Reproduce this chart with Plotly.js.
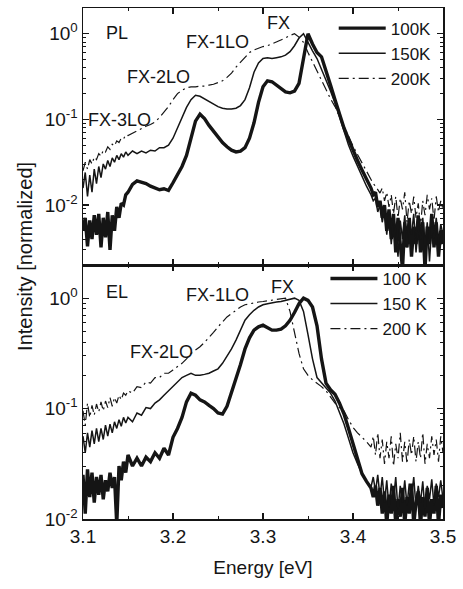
<!DOCTYPE html>
<html><head><meta charset="utf-8">
<script src="https://cdn.plot.ly/plotly-3.0.1.min.js"></script>
<style>html,body{margin:0;padding:0;background:#fff}#chart{width:463px;height:589px}</style>
</head><body><div id="chart"></div>
<script>
// Photon energy grid (eV): finer sampling in the noisy tails
const energy = [3.1000,3.1025,3.1050,3.1075,3.1100,3.1125,3.1150,3.1175,3.1200,3.1225,
  3.1250,3.1275,3.1300,3.1325,3.1350,3.1375,3.1400,3.1425,3.1450,3.1475,3.1500,
  3.155,3.160,3.165,3.170,3.175,3.180,3.185,3.190,3.195,
  3.200,3.205,3.210,3.215,3.220,3.225,3.230,3.235,3.240,3.245,
  3.250,3.255,3.260,3.265,3.270,3.275,3.280,3.285,3.290,3.295,
  3.300,3.305,3.310,3.315,3.320,3.325,3.330,3.335,3.340,3.345,
  3.350,3.355,3.360,3.365,3.370,3.375,3.380,3.385,3.390,3.395,
  3.400,3.405,3.410,3.415,
  3.4200,3.4225,3.4250,3.4275,3.4300,3.4325,3.4350,3.4375,3.4400,3.4425,
  3.4450,3.4475,3.4500,3.4525,3.4550,3.4575,3.4600,3.4625,3.4650,3.4675,
  3.4700,3.4725,3.4750,3.4775,3.4800,3.4825,3.4850,3.4875,3.4900,3.4925,
  3.4950,3.4975,3.5000];

// PL spectra (normalized intensity)
const pl100 = [0.0050,0.0071,0.0033,0.0066,0.0040,0.0076,0.0045,0.0079,0.0032,0.0071,
  0.0042,0.0083,0.0030,0.0076,0.0050,0.0095,0.0071,0.0105,0.0100,0.0132,0.0141,
  0.0174,0.0191,0.0186,0.0178,0.0166,0.0158,0.0151,0.0155,0.0148,
  0.0182,0.0224,0.0282,0.0380,0.0603,0.0955,0.115,0.102,0.0851,0.0724,
  0.0617,0.0537,0.0479,0.0437,0.0417,0.0427,0.0468,0.0603,0.0912,0.158,
  0.240,0.282,0.275,0.251,0.229,0.209,0.204,0.214,0.263,0.501,
  1.000,0.759,0.603,0.537,0.380,0.251,0.170,0.115,0.0794,0.0589,
  0.0437,0.0331,0.0257,0.0200,
  0.0158,0.0132,0.0141,0.0095,0.0112,0.0071,0.0100,0.0050,0.0089,0.0040,
  0.0079,0.0028,0.0071,0.0035,0.0018,0.0063,0.0032,0.0071,0.0025,0.0056,
  0.0035,0.0076,0.0028,0.0063,0.0018,0.0056,0.0035,0.0079,0.0032,0.0063,
  0.0025,0.0050,0.0035];
const pl150 = [0.0158,0.0240,0.0126,0.0224,0.0141,0.0263,0.0178,0.0282,0.0209,0.0302,
  0.0263,0.0331,0.0282,0.0355,0.0316,0.0380,0.0339,0.0398,0.0363,0.0417,0.0380,
  0.0427,0.0398,0.0427,0.0407,0.0437,0.0427,0.0468,0.0468,0.0501,
  0.0603,0.0794,0.105,0.138,0.170,0.191,0.186,0.174,0.162,0.151,
  0.141,0.135,0.132,0.132,0.135,0.145,0.170,0.234,0.355,0.457,
  0.513,0.525,0.513,0.525,0.537,0.562,0.617,0.724,0.891,1.000,
  0.776,0.631,0.513,0.389,0.288,0.214,0.155,0.105,0.0692,0.0501,
  0.0372,0.0282,0.0224,0.0166,
  0.0132,0.0112,0.0120,0.0083,0.0100,0.0063,0.0089,0.0045,0.0079,0.0035,
  0.0071,0.0050,0.0025,0.0066,0.0040,0.0076,0.0032,0.0063,0.0045,0.0079,
  0.0028,0.0056,0.0040,0.0071,0.0032,0.0063,0.0022,0.0056,0.0040,0.0071,
  0.0035,0.0060,0.0045];
const pl200 = [0.0251,0.0316,0.0263,0.0339,0.0302,0.0363,0.0339,0.0398,0.0372,0.0437,
  0.0417,0.0479,0.0447,0.0513,0.0490,0.0562,0.0537,0.0603,0.0589,0.0661,0.0646,
  0.0692,0.0741,0.0794,0.0832,0.0871,0.0933,0.105,0.120,0.141,
  0.170,0.200,0.219,0.234,0.240,0.240,0.245,0.245,0.251,0.257,
  0.269,0.282,0.309,0.347,0.407,0.468,0.537,0.603,0.646,0.676,
  0.708,0.724,0.759,0.794,0.832,0.891,0.955,1.000,0.912,0.794,
  0.603,0.468,0.363,0.282,0.219,0.174,0.141,0.107,0.0832,0.0631,
  0.0490,0.0389,0.0309,0.0251,
  0.0200,0.0178,0.0166,0.0151,0.0138,0.0158,0.0112,0.0141,0.0095,0.0132,
  0.0079,0.0126,0.0071,0.0120,0.0089,0.0141,0.0063,0.0112,0.0079,0.0126,
  0.0071,0.0105,0.0056,0.0112,0.0076,0.0132,0.0089,0.0120,0.0066,0.0126,
  0.0083,0.0112,0.0089];

// EL spectra (normalized intensity)
const el100 = [0.0251,0.0112,0.0282,0.0158,0.0263,0.0141,0.0240,0.0166,0.0251,0.0151,
  0.0224,0.0178,0.0263,0.0191,0.0240,0.0089,0.0302,0.0224,0.0331,0.0263,0.0380,
  0.0302,0.0355,0.0302,0.0363,0.0331,0.0398,0.0355,0.0437,0.0380,
  0.0550,0.0661,0.0832,0.115,0.138,0.132,0.120,0.115,0.107,0.100,
  0.0912,0.0891,0.105,0.138,0.182,0.251,0.347,0.437,0.513,0.550,
  0.569,0.537,0.513,0.513,0.525,0.562,0.631,0.741,0.891,1.000,
  0.955,0.832,0.562,0.282,0.170,0.148,0.135,0.112,0.0891,0.0661,
  0.0479,0.0339,0.0257,0.0219,
  0.0191,0.0158,0.0200,0.0132,0.0191,0.0112,0.0178,0.0089,0.0166,0.0112,
  0.0200,0.0089,0.0151,0.0105,0.0191,0.0089,0.0158,0.0112,0.0209,0.0089,
  0.0141,0.0178,0.0089,0.0158,0.0105,0.0191,0.0089,0.0151,0.0112,0.0200,
  0.0089,0.0166,0.0126];
const el150 = [0.0562,0.0398,0.0603,0.0447,0.0631,0.0479,0.0661,0.0501,0.0661,0.0525,
  0.0708,0.0562,0.0724,0.0603,0.0759,0.0661,0.0794,0.0692,0.0832,0.0741,0.0832,
  0.0759,0.0912,0.0871,0.102,0.100,0.112,0.120,0.132,0.145,
  0.158,0.174,0.191,0.200,0.209,0.200,0.200,0.204,0.209,0.219,
  0.229,0.257,0.295,0.347,0.417,0.513,0.631,0.708,0.776,0.832,
  0.871,0.891,0.912,0.923,0.933,0.955,0.977,1.000,0.955,0.759,
  0.468,0.282,0.191,0.170,0.155,0.138,0.117,0.0933,0.0724,0.0537,
  0.0398,0.0316,0.0257,0.0219,
  0.0195,0.0240,0.0178,0.0251,0.0158,0.0240,0.0141,0.0224,0.0126,0.0209,
  0.0151,0.0240,0.0120,0.0200,0.0141,0.0224,0.0132,0.0209,0.0158,0.0240,
  0.0126,0.0200,0.0141,0.0219,0.0120,0.0200,0.0151,0.0229,0.0132,0.0209,
  0.0158,0.0224,0.0151];
const el200 = [0.0955,0.0708,0.112,0.0832,0.107,0.0871,0.110,0.0933,0.115,0.0955,
  0.117,0.102,0.126,0.105,0.126,0.112,0.132,0.120,0.138,0.132,0.145,
  0.138,0.158,0.155,0.174,0.170,0.191,0.191,0.209,0.209,
  0.224,0.240,0.257,0.282,0.316,0.339,0.363,0.398,0.447,0.490,
  0.550,0.617,0.676,0.724,0.776,0.832,0.871,0.891,0.912,0.923,
  0.933,0.944,0.955,0.977,0.989,1.000,0.759,0.501,0.316,0.229,
  0.200,0.182,0.170,0.158,0.145,0.126,0.112,0.102,0.0955,0.0794,
  0.0676,0.0603,0.0550,0.0501,
  0.0447,0.0562,0.0380,0.0603,0.0355,0.0525,0.0316,0.0501,0.0355,0.0562,
  0.0302,0.0479,0.0355,0.0603,0.0331,0.0501,0.0316,0.0525,0.0380,0.0562,
  0.0331,0.0501,0.0355,0.0603,0.0316,0.0479,0.0355,0.0562,0.0380,0.0525,
  0.0331,0.0562,0.0398];

const plLabels = ['100K','150K','200K'];
const elLabels = ['100 K','150 K','200 K'];
const yTickVals = [0.01, 0.1, 1];
const yTickText = ['10<sup>-2</sup>','10<sup>-1</sup>','10<sup>0</sup>'];
const yMinorVals = [0.002,0.003,0.004,0.005,0.006,0.007,0.008,0.009,
  0.02,0.03,0.04,0.05,0.06,0.07,0.08,0.09,
  0.2,0.3,0.4,0.5,0.6,0.7,0.8,0.9,2];

const INK = '#151515';
const styles = [
  {color: INK, width: 3.4},
  {color: INK, width: 1.5},
  {color: INK, width: 1.2, dash: '10px,4px,2px,4px'}
];

const traces = [];
[pl100, pl150, pl200].forEach((ys, i) => traces.push({
  x: energy, y: ys, xaxis: 'x', yaxis: 'y', type: 'scatter', mode: 'lines',
  name: plLabels[i], legend: 'legend', line: styles[i]
}));
[el100, el150, el200].forEach((ys, i) => traces.push({
  x: energy, y: ys, xaxis: 'x2', yaxis: 'y2', type: 'scatter', mode: 'lines',
  name: elLabels[i], legend: 'legend2', line: styles[i]
}));

const FONT = 'Liberation Sans, Arial, Helvetica, sans-serif';
const xBase = {
  range: [3.1, 3.5], tick0: 3.1, dtick: 0.1, ticks: 'inside', ticklen: 6, tickwidth: 1.2,
  tickcolor: INK, showline: true, linewidth: 1.5, linecolor: INK, mirror: 'ticks',
  showgrid: false, zeroline: false,
  minor: {dtick: 0.05, ticks: 'inside', ticklen: 3, tickwidth: 1, tickcolor: INK, showgrid: false}
};
const yBase = {
  type: 'log', tickvals: yTickVals, ticktext: yTickText, ticks: 'inside', ticklen: 6,
  tickwidth: 1.2, tickcolor: INK, showline: true, linewidth: 1.5, linecolor: INK,
  mirror: 'ticks', showgrid: false, zeroline: false, tickfont: {size: 19},
  minor: {tickvals: yMinorVals, ticks: 'inside', ticklen: 3, tickwidth: 1, tickcolor: INK, showgrid: false}
};

const annFont = {size: 18, color: INK, family: FONT};
const ann = (text, x, y, xr, yr) => ({text, x, y, xref: xr, yref: yr, showarrow: false,
  xanchor: 'center', yanchor: 'middle', font: annFont});

const layout = {
  width: 463, height: 589,
  margin: {l: 83, r: 20, t: 8, b: 70},
  paper_bgcolor: '#fff', plot_bgcolor: '#fff',
  font: {family: FONT, size: 18, color: INK},
  showlegend: true,
  xaxis: Object.assign({}, xBase, {domain: [0, 1], anchor: 'y', showticklabels: false, matches: 'x2'}),
  yaxis: Object.assign({}, yBase, {domain: [0.497, 1], anchor: 'x', range: [-2.70, 0.30]}),
  xaxis2: Object.assign({}, xBase, {domain: [0, 1], anchor: 'y2', showticklabels: true,
    tickfont: {size: 19}, title: {text: 'Energy [eV]', font: {size: 19}, standoff: 14}}),
  yaxis2: Object.assign({}, yBase, {domain: [0, 0.497], anchor: 'x2', range: [-2.0, 0.30]}),
  legend: {x: 0.702, xanchor: 'left', y: 0.995, yanchor: 'top', bgcolor: 'rgba(0,0,0,0)',
    font: {size: 17}, itemwidth: 45, tracegroupgap: 0},
  legend2: {x: 0.679, xanchor: 'left', y: 0.505, yanchor: 'top', bgcolor: 'rgba(0,0,0,0)',
    font: {size: 17}, itemwidth: 45, tracegroupgap: 0},
  annotations: [
    ann('PL', 3.138, 0.006, 'x', 'y'),
    ann('FX', 3.317, 0.122, 'x', 'y'),
    ann('FX-1LO', 3.249, -0.099, 'x', 'y'),
    ann('FX-2LO', 3.184, -0.507, 'x', 'y'),
    ann('FX-3LO', 3.141, -1.009, 'x', 'y'),
    ann('EL', 3.138, 0.054, 'x2', 'y2'),
    ann('FX-1LO', 3.249, 0.027, 'x2', 'y2'),
    ann('FX', 3.322, 0.10, 'x2', 'y2'),
    ann('FX-2LO', 3.187, -0.489, 'x2', 'y2'),
    {text: 'Intensity [normalized]', xref: 'paper', yref: 'paper', x: -0.161, y: 0.513,
     textangle: -90, showarrow: false, xanchor: 'center', yanchor: 'middle',
     font: {size: 20, color: INK, family: FONT}}
  ]
};

Plotly.newPlot('chart', traces, layout, {displayModeBar: false, staticPlot: true}).then(gd => {
  // lengthen the legend line samples to match the reference key
  gd.querySelectorAll('.legendlines path').forEach(p => p.setAttribute('d', 'M3,0h47'));
});
</script>
</body></html>
